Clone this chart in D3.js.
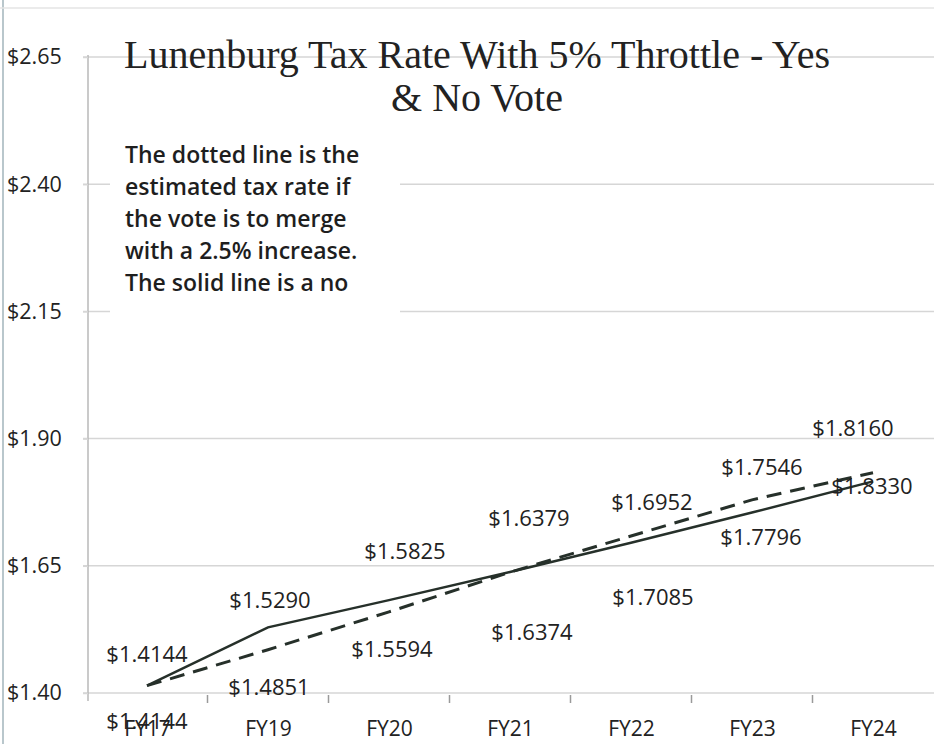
<!DOCTYPE html>
<html>
<head>
<meta charset="utf-8">
<script src="https://cdn.jsdelivr.net/npm/d3@7"></script>
<style>
  html, body { margin: 0; padding: 0; background: #fff; }
  svg { display: block; }
</style>
</head>
<body>
<script>
// Fiscal years on the horizontal axis
const years = ["FY17", "FY19", "FY20", "FY21", "FY22", "FY23", "FY24"];
// Tax rate if the merger is rejected (solid line)
const noVote = [1.4144, 1.5290, 1.5825, 1.6379, 1.6952, 1.7546, 1.8160];
// Estimated tax rate if the merger passes with a 2.5% increase (dashed line)
const yesVote = [1.4144, 1.4851, 1.5594, 1.6374, 1.7085, 1.7796, 1.8330];
// Value axis ticks
const yTicks = [1.40, 1.65, 1.90, 2.15, 2.40, 2.65];

const titleLines = ["Lunenburg Tax Rate With 5% Throttle - Yes", "& No Vote"];
const noteLines = [
  "The dotted line is the",
  "estimated tax rate if",
  "the vote is to merge",
  "with a 2.5% increase.",
  "The solid line is a no"
];

// Label nudges (pixels) relative to each point
const noLabelShift = [[0, -31], [2, -27], [16, -49], [19, -54], [21, -41], [10, -45], [-20, -53]];
const yesLabelShift = [[0, 36], [1, 38], [3, 37], [22, 60], [22, 61], [9, 37], [-1, 14]];

const W = 934, H = 744;
const svg = d3.select("body").append("svg").attr("width", W).attr("height", H);

const x = d3.scalePoint().domain(years).range([147, 873]);
const y = d3.scaleLinear().domain([1.40, 2.65]).range([693, 57]);
const step = x.step();

const ink = "#26302a";
const grid = "#d6d6d6";
const money = d3.format("$.4f");

// faint page edges
svg.append("line").attr("x1", 3).attr("x2", 3).attr("y1", 0).attr("y2", H)
  .attr("stroke", "#b9c7cc").attr("stroke-width", 2);
svg.append("line").attr("x1", 0).attr("x2", W).attr("y1", 8).attr("y2", 8)
  .attr("stroke", "#e4e4e4").attr("stroke-width", 1.5);

// horizontal gridlines
svg.append("g").selectAll("line").data(yTicks).join("line")
  .attr("x1", 83).attr("x2", W)
  .attr("y1", d => y(d)).attr("y2", d => y(d))
  .attr("stroke", grid).attr("stroke-width", 1.5);

// value axis
const yAxis = d3.axisLeft(y).tickValues(yTicks).tickSize(5).tickPadding(20)
  .tickFormat(d => "$" + d3.format(".2f")(d));
const gy = svg.append("g").attr("transform", "translate(88,0)").call(yAxis);
gy.select(".domain").attr("stroke", "#b8b8b8").attr("stroke-width", 1.5)
  .attr("d", `M0,${y(2.65) - 2}V${y(1.40) + 8}`);
gy.selectAll(".tick line").attr("stroke", grid).attr("stroke-width", 1.5);
gy.selectAll("text").attr("font-family", "Open Sans, sans-serif").attr("font-size", 21.5)
  .attr("fill", "#222").attr("text-anchor", "start").attr("x", -81);

// category axis
const xAxis = d3.axisBottom(x).tickSize(0).tickPadding(28);
const gx = svg.append("g").attr("transform", `translate(0,${y(1.40)})`).call(xAxis);
gx.select(".domain").remove();
gx.selectAll("text").attr("font-family", "Open Sans, sans-serif").attr("font-size", 21)
  .attr("fill", "#222");
// small separators between categories
gx.append("g").selectAll("line").data(years.slice(1)).join("line")
  .attr("x1", d => x(d) - step / 2).attr("x2", d => x(d) - step / 2)
  .attr("y1", 2).attr("y2", 10)
  .attr("stroke", "#9a9a9a").attr("stroke-width", 1.5);

// title
const title = svg.append("text").attr("text-anchor", "middle")
  .attr("font-family", "Liberation Serif, Times New Roman, serif")
  .attr("font-size", 40).attr("fill", "#222");
title.selectAll("tspan").data(titleLines).join("tspan")
  .attr("x", 477).attr("y", (d, i) => 68 + i * 43).text(d => d);

// explanatory note on a white card
svg.append("rect").attr("x", 110).attr("y", 134).attr("width", 290).attr("height", 186)
  .attr("fill", "#fff");
const note = svg.append("text")
  .attr("font-family", "Open Sans, sans-serif").attr("font-size", 23)
  .attr("font-weight", 600).attr("fill", "#1e1e1e");
note.selectAll("tspan").data(noteLines).join("tspan")
  .attr("x", 125).attr("y", (d, i) => 163 + i * 32).text(d => d);

// lines
const line = d3.line().x((d, i) => x(years[i])).y(d => y(d));
svg.append("path").datum(yesVote).attr("d", line)
  .attr("fill", "none").attr("stroke", ink).attr("stroke-width", 3)
  .attr("stroke-dasharray", "15 9");
svg.append("path").datum(noVote).attr("d", line)
  .attr("fill", "none").attr("stroke", ink).attr("stroke-width", 2.5);

// value labels
function labels(values, shifts) {
  svg.append("g").selectAll("text").data(values).join("text")
    .attr("x", (d, i) => x(years[i]) + shifts[i][0])
    .attr("y", (d, i) => y(d) + shifts[i][1])
    .attr("dy", "0.35em")
    .attr("text-anchor", "middle")
    .attr("font-family", "Open Sans, sans-serif").attr("font-size", 22)
    .attr("fill", "#222")
    .text(d => money(d));
}
labels(noVote, noLabelShift);
labels(yesVote, yesLabelShift);
</script>
</body>
</html>
